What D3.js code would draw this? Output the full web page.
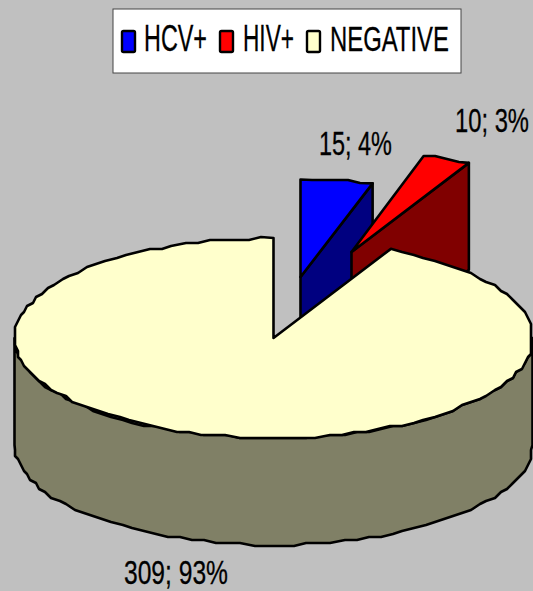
<!DOCTYPE html>
<html><head><meta charset="utf-8">
<style>html,body{margin:0;padding:0;background:#c0c0c0;overflow:hidden}svg{display:block}text{font-family:"Liberation Sans",Arial,sans-serif;fill:#000;stroke:#000;stroke-width:0.3}</style>
<script src="https://cdn.jsdelivr.net/npm/d3@7/dist/d3.min.js"></script>
</head><body><svg id="c" width="533" height="591"></svg>
<script>
const categories=["HCV+","HIV+","NEGATIVE"];
const values=[15,10,309];
const percents=["4%","3%","93%"];
const topColors=["#0000ff","#ff0000","#ffffcc"];
const sideColors=["#000080","#800000","#808066"];

const W=533,H=591,cx=273.5,cy=338,rx=259,ry=100,depth=107,snap=3;
const explode=[[27,-61,0.975],[78,-86,1],[0,0,1]];
const labelBoxes=[[319,392,155],[455,529,132],[124,228,584]];
const legendBoxes=[[144,207,122],[243,294,220],[330,449,307]];

const svg=d3.select("#c");
svg.append("rect").attr("width",W).attr("height",H).attr("fill","#c0c0c0");

const pie=d3.pie().sort(null).startAngle(0).endAngle(2*Math.PI);
const arcs=pie(values);
const sx=d3.scaleLinear().domain([-1,1]).range([cx-rx,cx+rx]);
const sy=d3.scaleLinear().domain([-1,1]).range([cy-ry,cy+ry]);
const line=d3.line().curve(d3.curveLinear);
const pt=(a,o,dz=0)=>[sx(Math.sin(a))+o[0],sy(-Math.cos(a)*o[2])+o[1]+dz];
// the source outline is drawn on a coarse device grid, which gives its stepped edge
const grid=p=>[Math.round(p[0]/snap)*snap,Math.round(p[1]/snap)*snap];

function arcPts(a0,a1,o,dz=0,step=0.05){
  const n=Math.max(1,Math.round((a1-a0)/step));
  return d3.range(n+1).map(i=>{
    const p=pt(a0+(a1-a0)*i/n,o,dz);
    return (i===0||i===n)?p:grid(p);
  });
}
const stroke={stroke:"#000","stroke-width":2.6,"stroke-linejoin":"round"};
function draw(pts,fill){
  const p=svg.append("path").attr("d",line(pts)+"Z").attr("fill",fill);
  Object.entries(stroke).forEach(([k,v])=>p.attr(k,v));
}

[0,1].forEach(i=>{
  const d=arcs[i],o=explode[i];
  const apex=[sx(0)+o[0],sy(0)+o[1]];
  const e=pt(d.endAngle,o);
  draw([apex,e,[e[0],e[1]+depth],[apex[0],apex[1]+depth]],sideColors[i]);
  draw([apex,...arcPts(d.startAngle,d.endAngle,o)],topColors[i]);
});

const m=arcs[2],o0=explode[2];
const wallTop=arcPts(Math.PI/2,1.5*Math.PI,o0);
const wallBot=arcPts(Math.PI/2,1.5*Math.PI,o0,depth).reverse();
draw([...wallTop,...wallBot],sideColors[2]);
draw([[sx(0),sy(0)],...arcPts(m.startAngle,m.endAngle,o0)],topColors[2]);

function squeezed(x0,x1,y,size,str){
  const t=svg.append("text").attr("font-size",size).text(str);
  const k=(x1-x0)/t.node().getComputedTextLength();
  t.attr("transform",`translate(${x0},${y}) scale(${k},1)`);
}
categories.forEach((c,i)=>{
  const b=labelBoxes[i];
  squeezed(b[0],b[1],b[2],33,values[i]+"; "+percents[i]);
});

svg.append("rect").attr("x",113).attr("y",9).attr("width",348).attr("height",64)
  .attr("fill","#fff").attr("stroke","#444").attr("stroke-width",1);
categories.forEach((c,i)=>{
  const b=legendBoxes[i];
  svg.append("rect").attr("x",b[2]).attr("y",31).attr("width",13).attr("height",21).attr("rx",1.5)
    .attr("fill",topColors[i]).attr("stroke","#000").attr("stroke-width",2.4);
  squeezed(b[0],b[1],51,36,c);
});
</script></body></html>
